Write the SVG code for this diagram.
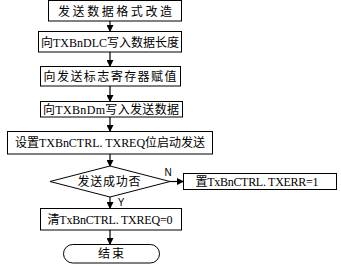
<svg xmlns="http://www.w3.org/2000/svg" width="341" height="266" viewBox="0 0 341 266">
<defs>
<marker id="arr" markerWidth="7" markerHeight="7" refX="6" refY="3.5" orient="auto" markerUnits="userSpaceOnUse">
<path d="M0,0 L7,3.5 L0,7 Z" fill="#000"/>
</marker>
<style>
rect, path.shape { fill: #fff; stroke: #000; stroke-width: 1; }
text { font-family: "Liberation Serif", "Noto Sans CJK SC", serif; font-size: 12px; fill: #000; text-anchor: middle; }
text.lbl { font-family: "Liberation Sans", "DejaVu Sans", sans-serif; font-size: 10px; }
.conn line { stroke: #000; stroke-width: 1.2; marker-end: url(#arr); }
</style>
</defs>
<rect width="341" height="266" fill="#fff" style="stroke:none"/>
<g class="conn">
<line x1="110" y1="21" x2="110" y2="31"/>
<line x1="110" y1="52" x2="110" y2="66"/>
<line x1="110" y1="86" x2="110" y2="101"/>
<line x1="110" y1="117" x2="110" y2="131"/>
<line x1="110" y1="154" x2="110" y2="166"/>
<line x1="170" y1="181.5" x2="183" y2="181.5"/>
<line x1="110" y1="197" x2="110" y2="208"/>
<line x1="110" y1="230" x2="110" y2="244"/>
</g>
<g id="n1"><rect x="48.5" y="0.5" width="133" height="20.5"/><text x="115" y="15.5" textLength="114" lengthAdjust="spacing">发送数据格式改造</text></g>
<g id="n2"><rect x="38.5" y="31.5" width="143" height="20.5"/><text x="110" y="46.5" textLength="138" lengthAdjust="spacing">向TXBnDLC写入数据长度</text></g>
<g id="n3"><rect x="40.5" y="66.5" width="140" height="19.5"/><text x="110" y="81" textLength="133" lengthAdjust="spacing">向发送标志寄存器赋值</text></g>
<g id="n4"><rect x="40.5" y="101.5" width="142" height="15.5"/><text x="111" y="113.5" textLength="136" lengthAdjust="spacing">向TXBnDm写入发送数据</text></g>
<g id="n5"><rect x="7.5" y="131.5" width="205" height="22.5"/><text x="110" y="147" textLength="190" lengthAdjust="spacing">设置TXBnCTRL. TXREQ位启动发送</text></g>
<g id="n6"><path class="shape" d="M50,181.5 L110,166 L170,181.5 L110,197 Z"/><text x="109" y="186" textLength="63" lengthAdjust="spacing">发送成功否</text></g>
<g id="n7"><rect x="183.5" y="173.5" width="153" height="16"/><text x="257" y="186" textLength="123" lengthAdjust="spacing">置TxBnCTRL. TXERR=1</text></g>
<g id="n8"><rect x="40.5" y="208.5" width="141" height="21.5"/><text x="110" y="223.5" textLength="125" lengthAdjust="spacing">清TxBnCTRL. TXREQ=0</text></g>
<g id="n9"><rect x="63.5" y="244.5" width="96" height="18.5" rx="9.25" ry="9.25"/><text x="111" y="258" textLength="26" lengthAdjust="spacing">结束</text></g>
<text class="lbl" x="168" y="176">N</text>
<text class="lbl" x="121" y="206">Y</text>
</svg>
